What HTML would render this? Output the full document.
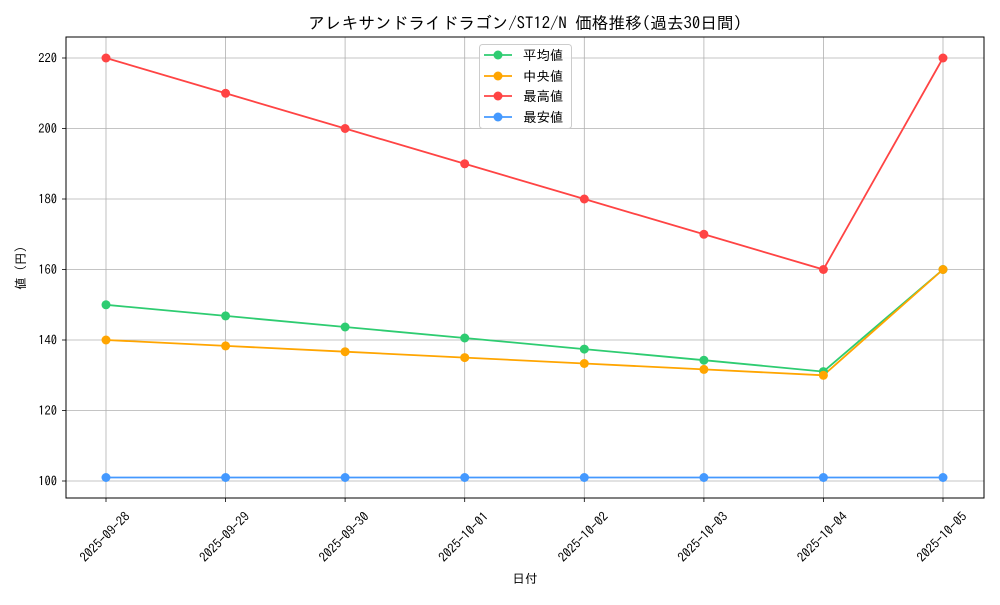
<!DOCTYPE html>
<html><head><meta charset="utf-8"><style>
body{margin:0;background:#fff;}
svg text{font-family:"IPAGothic","Noto Sans CJK JP",sans-serif;fill:#000;}
</style></head><body>
<svg width="1000" height="600" viewBox="0 0 1000 600" xmlns="http://www.w3.org/2000/svg">
<rect width="1000" height="600" fill="#fff"/>
<g stroke="#b0b0b0" stroke-width="0.8">
<line x1="106" y1="37" x2="106" y2="498"/><line x1="225.6" y1="37" x2="225.6" y2="498"/>
<line x1="345.1" y1="37" x2="345.1" y2="498"/><line x1="464.7" y1="37" x2="464.7" y2="498"/>
<line x1="584.3" y1="37" x2="584.3" y2="498"/><line x1="703.9" y1="37" x2="703.9" y2="498"/>
<line x1="823.4" y1="37" x2="823.4" y2="498"/><line x1="943" y1="37" x2="943" y2="498"/>
<line x1="66" y1="481" x2="984" y2="481"/><line x1="66" y1="410.5" x2="984" y2="410.5"/>
<line x1="66" y1="340" x2="984" y2="340"/><line x1="66" y1="269.5" x2="984" y2="269.5"/>
<line x1="66" y1="199" x2="984" y2="199"/><line x1="66" y1="128.5" x2="984" y2="128.5"/>
<line x1="66" y1="58" x2="984" y2="58"/>
</g>
<g font-size="12.5" text-anchor="end">
<text x="57" y="485.5">100</text><text x="57" y="415">120</text><text x="57" y="344.5">140</text>
<text x="57" y="274">160</text><text x="57" y="203.5">180</text><text x="57" y="133">200</text><text x="57" y="62.5">220</text>
</g>
<g stroke="#000" stroke-width="0.8">
<line x1="62" y1="481" x2="66" y2="481"/><line x1="62" y1="410.5" x2="66" y2="410.5"/><line x1="62" y1="340" x2="66" y2="340"/>
<line x1="62" y1="269.5" x2="66" y2="269.5"/><line x1="62" y1="199" x2="66" y2="199"/><line x1="62" y1="128.5" x2="66" y2="128.5"/><line x1="62" y1="58" x2="66" y2="58"/>
<line x1="106" y1="498" x2="106" y2="502"/><line x1="225.6" y1="498" x2="225.6" y2="502"/><line x1="345.1" y1="498" x2="345.1" y2="502"/>
<line x1="464.7" y1="498" x2="464.7" y2="502"/><line x1="584.3" y1="498" x2="584.3" y2="502"/><line x1="703.9" y1="498" x2="703.9" y2="502"/>
<line x1="823.4" y1="498" x2="823.4" y2="502"/><line x1="943" y1="498" x2="943" y2="502"/>
</g>
<g font-size="12.8" text-anchor="middle">
<text transform="translate(108,540) rotate(-45)">2025-09-28</text>
<text transform="translate(227.6,540) rotate(-45)">2025-09-29</text>
<text transform="translate(347.1,540) rotate(-45)">2025-09-30</text>
<text transform="translate(466.7,540) rotate(-45)">2025-10-01</text>
<text transform="translate(586.3,540) rotate(-45)">2025-10-02</text>
<text transform="translate(705.9,540) rotate(-45)">2025-10-03</text>
<text transform="translate(825.4,540) rotate(-45)">2025-10-04</text>
<text transform="translate(945,540) rotate(-45)">2025-10-05</text>
</g>
<text x="525" y="583" font-size="12.5" text-anchor="middle">日付</text>
<text transform="translate(25,268) rotate(-90)" font-size="12.5" text-anchor="middle">値 (円)</text>
<text x="525" y="29" font-size="16.7" text-anchor="middle">アレキサンドライドラゴン/ST12/N 価格推移(過去30日間)</text>
<g fill="none" stroke-width="1.8">
<polyline stroke="#2ecc71" points="106,304.8 225.6,315.9 345.1,327 464.7,338 584.3,349.1 703.9,360.2 823.4,371.6 943,269.5"/>
<polyline stroke="#ffa500" points="106,340 225.6,345.9 345.1,351.7 464.7,357.6 584.3,363.5 703.9,369.4 823.4,375.3 943,269.5"/>
<polyline stroke="#ff4444" points="106,58 225.6,93.3 345.1,128.5 464.7,163.8 584.3,199 703.9,234.3 823.4,269.5 943,58"/>
<polyline stroke="#4499ff" points="106,477.5 943,477.5"/>
</g>
<g fill="#2ecc71"><circle cx="106" cy="304.8" r="4.5"/><circle cx="225.6" cy="315.9" r="4.5"/><circle cx="345.1" cy="327" r="4.5"/><circle cx="464.7" cy="338" r="4.5"/><circle cx="584.3" cy="349.1" r="4.5"/><circle cx="703.9" cy="360.2" r="4.5"/><circle cx="823.4" cy="371.6" r="4.5"/><circle cx="943" cy="269.5" r="4.5"/></g>
<g fill="#ffa500"><circle cx="106" cy="340" r="4.5"/><circle cx="225.6" cy="345.9" r="4.5"/><circle cx="345.1" cy="351.7" r="4.5"/><circle cx="464.7" cy="357.6" r="4.5"/><circle cx="584.3" cy="363.5" r="4.5"/><circle cx="703.9" cy="369.4" r="4.5"/><circle cx="823.4" cy="375.3" r="4.5"/><circle cx="943" cy="269.5" r="4.5"/></g>
<g fill="#ff4444"><circle cx="106" cy="58" r="4.5"/><circle cx="225.6" cy="93.3" r="4.5"/><circle cx="345.1" cy="128.5" r="4.5"/><circle cx="464.7" cy="163.8" r="4.5"/><circle cx="584.3" cy="199" r="4.5"/><circle cx="703.9" cy="234.3" r="4.5"/><circle cx="823.4" cy="269.5" r="4.5"/><circle cx="943" cy="58" r="4.5"/></g>
<g fill="#4499ff"><circle cx="106" cy="477.5" r="4.5"/><circle cx="225.6" cy="477.5" r="4.5"/><circle cx="345.1" cy="477.5" r="4.5"/><circle cx="464.7" cy="477.5" r="4.5"/><circle cx="584.3" cy="477.5" r="4.5"/><circle cx="703.9" cy="477.5" r="4.5"/><circle cx="823.4" cy="477.5" r="4.5"/><circle cx="943" cy="477.5" r="4.5"/></g>
<rect x="66" y="37" width="918" height="461" fill="none" stroke="#000" stroke-width="1"/>
<rect x="479.5" y="44.5" width="92" height="84" rx="3" fill="#fff" fill-opacity="0.8" stroke="#ccc"/>
<g stroke-width="1.8">
<line x1="484" y1="55" x2="512" y2="55" stroke="#2ecc71"/><circle cx="498" cy="55" r="4.5" fill="#2ecc71"/>
<line x1="484" y1="76" x2="512" y2="76" stroke="#ffa500"/><circle cx="498" cy="76" r="4.5" fill="#ffa500"/>
<line x1="484" y1="96" x2="512" y2="96" stroke="#ff4444"/><circle cx="498" cy="96" r="4.5" fill="#ff4444"/>
<line x1="484" y1="117" x2="512" y2="117" stroke="#4499ff"/><circle cx="498" cy="117" r="4.5" fill="#4499ff"/>
</g>
<g font-size="13.5"><text x="523" y="60">平均値</text><text x="523" y="81">中央値</text><text x="523" y="101">最高値</text><text x="523" y="122">最安値</text></g>
</svg>
</body></html>
